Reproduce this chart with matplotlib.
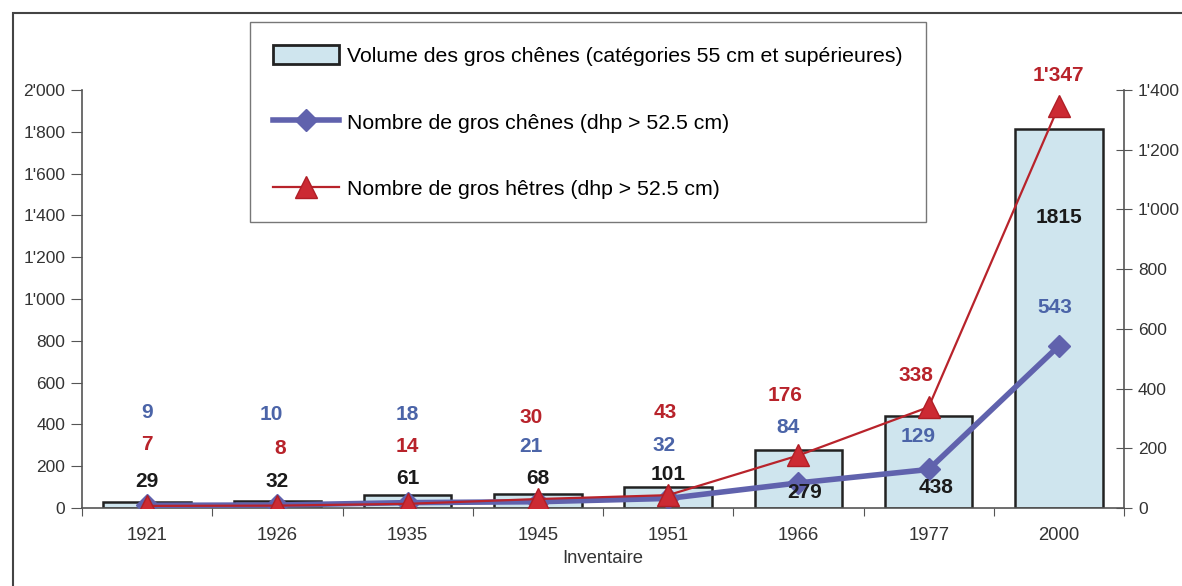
import matplotlib
matplotlib.use("Agg")
import matplotlib.pyplot as plt
import numpy as np
from matplotlib.ticker import FuncFormatter
from matplotlib.patches import Rectangle
from matplotlib.lines import Line2D

plt.rcParams['font.family'] = ['Liberation Sans Narrow', 'Liberation Sans', 'DejaVu Sans']

# data
years = ['1921', '1926', '1935', '1945', '1951', '1966', '1977', '2000']
volume = [29, 32, 61, 68, 101, 279, 438, 1815]
chenes = [9, 10, 18, 21, 32, 84, 129, 543]
hetres = [7, 8, 14, 30, 43, 176, 338, 1347]

# label layout (left-axis units, category offsets)
vol_lab_y = [129, 129, 139, 139, 158, 72, 100, 1388]
vol_lab_dx = [0, 0, 0, 0, 0, 0.05, 0.06, 0]
che_lab_y = [455, 445, 445, 292, 297, 383, 340, 957]
che_lab_dx = [0, -0.05, 0, -0.05, -0.03, -0.08, -0.08, -0.03]
het_lab_y = [306, 287, 292, 435, 455, 536, 632, 2067]
het_lab_dx = [0, 0.02, 0, -0.05, -0.02, -0.1, -0.1, 0]

BAR = '#cfe5ee'
BLUE = '#6062ad'
BLUE_TXT = '#4b64a8'
RED = '#b8232b'
GREY = '#555555'


def fmt(v, pos=None):
    return '{:,}'.format(int(v)).replace(',', "'")


fig = plt.figure(figsize=(11.82, 5.86), dpi=100)
ax = fig.add_axes([82/1182, 1-508/586, (1124-82)/1182, (508-90)/586])
ax2 = ax.twinx()

x = np.arange(len(years))
ax.bar(x, volume, width=0.67, color=BAR, edgecolor='#222222', linewidth=1.8, zorder=2)
ax2.plot(x, chenes, color=BLUE, lw=4, marker='D', ms=11, mfc=BLUE, mec=BLUE, zorder=3)
ax2.plot(x, hetres, color=RED, lw=1.6, marker='^', ms=16, mfc='#cc2a33', mec='#b01e26', zorder=4)

ax.set_xlim(-0.5, 7.5)
ax.set_ylim(0, 2000)
ax2.set_ylim(0, 1400)
ax.set_yticks(np.arange(0, 2001, 200))
ax2.set_yticks(np.arange(0, 1401, 200))
ax.yaxis.set_major_formatter(FuncFormatter(fmt))
ax2.yaxis.set_major_formatter(FuncFormatter(fmt))

ax.set_xticks(np.arange(-0.5, 8, 1))
ax.set_xticklabels([])
ax.set_xticks(x, minor=True)
ax.set_xticklabels(years, minor=True)
ax.tick_params(axis='x', which='major', length=6, color=GREY, direction='out')
ax.tick_params(axis='x', which='minor', length=0, pad=14, labelsize=13.3, labelcolor='#333333')
ax.tick_params(axis='y', length=8, color=GREY, labelsize=12.5, labelcolor='#333333', pad=4)
ax2.tick_params(axis='y', length=12, color=GREY, direction='inout', labelsize=12.5,
                labelcolor='#333333', pad=4)

for s in ['top', 'right']:
    ax.spines[s].set_visible(False)
for s in ['top', 'left', 'bottom']:
    ax2.spines[s].set_visible(False)
for a, s in [(ax, 'left'), (ax, 'bottom'), (ax2, 'right')]:
    a.spines[s].set_color(GREY)
    a.spines[s].set_linewidth(1.2)

ax.set_xlabel('Inventaire', fontsize=13.3, color='#333333', labelpad=4)

# value labels
for i in range(len(years)):
    ax2.text(i + vol_lab_dx[i], vol_lab_y[i], str(volume[i]), transform=ax.transData,
             ha='center', va='center', fontsize=15, fontweight='bold', color='#1a1a1a', zorder=6)
    ax2.text(i + che_lab_dx[i], che_lab_y[i], fmt(chenes[i]), transform=ax.transData,
             ha='center', va='center', fontsize=15, fontweight='bold', color=BLUE_TXT, zorder=6)
    ax2.text(i + het_lab_dx[i], het_lab_y[i], fmt(hetres[i]), transform=ax.transData,
             ha='center', va='center', fontsize=15, fontweight='bold', color=RED, zorder=6,
             clip_on=False)

# legend
handles = [
    Rectangle((0, 0), 1, 1, facecolor=BAR, edgecolor='#222222', linewidth=2),
    Line2D([], [], color=BLUE, lw=4, marker='D', ms=11, mfc=BLUE, mec=BLUE),
    Line2D([], [], color=RED, lw=1.6, marker='^', ms=16, mfc='#cc2a33', mec='#b01e26'),
]
labels = ['Volume des gros chênes (catégories 55 cm et supérieures)',
          'Nombre de gros chênes (dhp > 52.5 cm)',
          'Nombre de gros hêtres (dhp > 52.5 cm)']
leg = fig.legend(handles, labels, loc='upper left', bbox_to_anchor=(250/1182, 1-22/586),
                 fontsize=15.3, frameon=True, fancybox=False, edgecolor='#555555',
                 labelspacing=2.15, handlelength=3.1, handletextpad=0.35,
                 borderpad=1.1, borderaxespad=0, handleheight=1.0)
leg.get_frame().set_linewidth(1.0)

# outer frame
fig.patches.append(Rectangle((13/1182, -0.1), 1.2, 1-13/586+0.1, transform=fig.transFigure,
                             fill=False, edgecolor='#444444', linewidth=1.5))

fig.savefig('out.png', dpi=100)
